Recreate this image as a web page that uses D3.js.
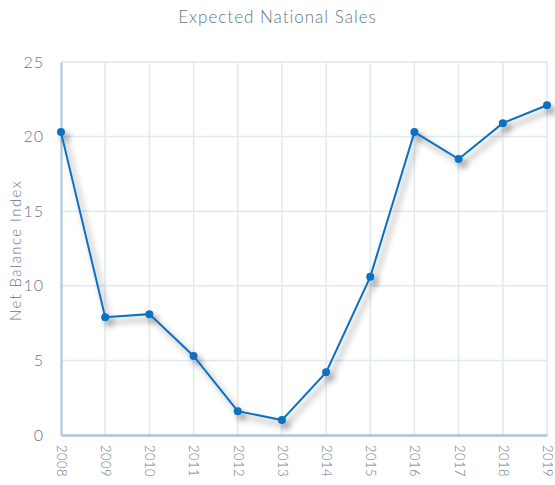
<!DOCTYPE html>
<meta charset="utf-8">
<style>

body {
  margin: 0;
  background: white;
}

.title {
  font: 300 17px Lato, sans-serif;
  letter-spacing: 1px;
  fill: #5f788c;
  text-anchor: middle;
}

.axis-title {
  font: 300 15px Lato, sans-serif;
  letter-spacing: 1.4px;
  fill: #5f788c;
  text-anchor: middle;
}

.axis text {
  font-family: Lato, sans-serif;
  font-weight: 300;
  fill: #5f788c;
}

.y.axis text {
  font-size: 16px;
  letter-spacing: 1px;
}

.x.axis text {
  font-size: 13px;
  letter-spacing: 0.5px;
}

.grid line {
  stroke: #e0e9f2;
  stroke-width: 1.5px;
}

.series path {
  fill: none;
  stroke: #0a6fc0;
  stroke-width: 2px;
}

.series circle {
  fill: #0a6fc0;
}

</style>
<svg></svg>
<script src="https://cdn.jsdelivr.net/npm/d3@7"></script>
<script>

var years = ['2008', '2009', '2010', '2011', '2012', '2013', '2014', '2015', '2016', '2017', '2018', '2019'];
var values = [20.3, 7.9, 8.1, 5.3, 1.6, 1.0, 4.2, 10.6, 20.3, 18.5, 20.9, 22.1];
var yTicks = [0, 5, 10, 15, 20, 25];

var width = 555;
var height = 485;
var margin = {top: 62, right: 8, bottom: 50, left: 61};

var svg = d3.select('svg')
  .attr('width', width)
  .attr('height', height);

var x = d3.scalePoint()
  .domain(years)
  .range([margin.left, width - margin.right]);

var y = d3.scaleLinear()
  .domain([0, 25])
  .range([height - margin.bottom, margin.top]);

// soft shadow under the line
var filter = svg.append('defs').append('filter')
  .attr('id', 'shadow')
  .attr('x', '-20%').attr('y', '-20%')
  .attr('width', '140%').attr('height', '140%');
filter.append('feDropShadow')
  .attr('dx', 4).attr('dy', 5)
  .attr('stdDeviation', 3)
  .attr('flood-color', '#000')
  .attr('flood-opacity', 0.45);

svg.append('text')
  .attr('class', 'title')
  .attr('x', width / 2)
  .attr('y', 23)
  .text('Expected National Sales');

// gridlines
var grid = svg.append('g').attr('class', 'grid');

grid.selectAll('line.h')
  .data(yTicks.slice(1))
  .enter().append('line')
  .attr('class', 'h')
  .attr('x1', margin.left)
  .attr('x2', width - margin.right)
  .attr('y1', function (d) { return y(d); })
  .attr('y2', function (d) { return y(d); });

grid.selectAll('line.v')
  .data(years.slice(1))
  .enter().append('line')
  .attr('class', 'v')
  .attr('x1', function (d) { return x(d); })
  .attr('x2', function (d) { return x(d); })
  .attr('y1', y(25))
  .attr('y2', y(0));

// y axis
var yAxis = svg.append('g')
  .attr('class', 'y axis')
  .attr('transform', 'translate(' + margin.left + ',0)')
  .call(d3.axisLeft(y).tickValues(yTicks).tickSize(0).tickPadding(17));
yAxis.select('.domain').attr('stroke', '#a9c6dc').attr('stroke-width', 2);

// x axis
var xAxis = svg.append('g')
  .attr('class', 'x axis')
  .attr('transform', 'translate(0,' + y(0) + ')')
  .call(d3.axisBottom(x).tickSize(0));
xAxis.select('.domain').attr('stroke', '#a9c6dc').attr('stroke-width', 2.5);
xAxis.selectAll('text')
  .attr('transform', 'rotate(90)')
  .attr('x', 10)
  .attr('y', 0)
  .attr('dy', '0.35em')
  .style('text-anchor', 'start');

svg.append('text')
  .attr('class', 'axis-title')
  .attr('transform', 'translate(21,' + ((y(0) + y(25)) / 2 + 2) + ') rotate(-90)')
  .text('Net Balance Index');

// series
var points = years.map(function (d, i) { return {year: d, value: values[i]}; });

var series = svg.append('g')
  .attr('class', 'series')
  .attr('filter', 'url(#shadow)');

series.append('path')
  .datum(points)
  .attr('d', d3.line()
    .x(function (d) { return x(d.year); })
    .y(function (d) { return y(d.value); }));

series.selectAll('circle')
  .data(points)
  .enter().append('circle')
  .attr('r', 4)
  .attr('cx', function (d) { return x(d.year); })
  .attr('cy', function (d) { return y(d.value); });

</script>
